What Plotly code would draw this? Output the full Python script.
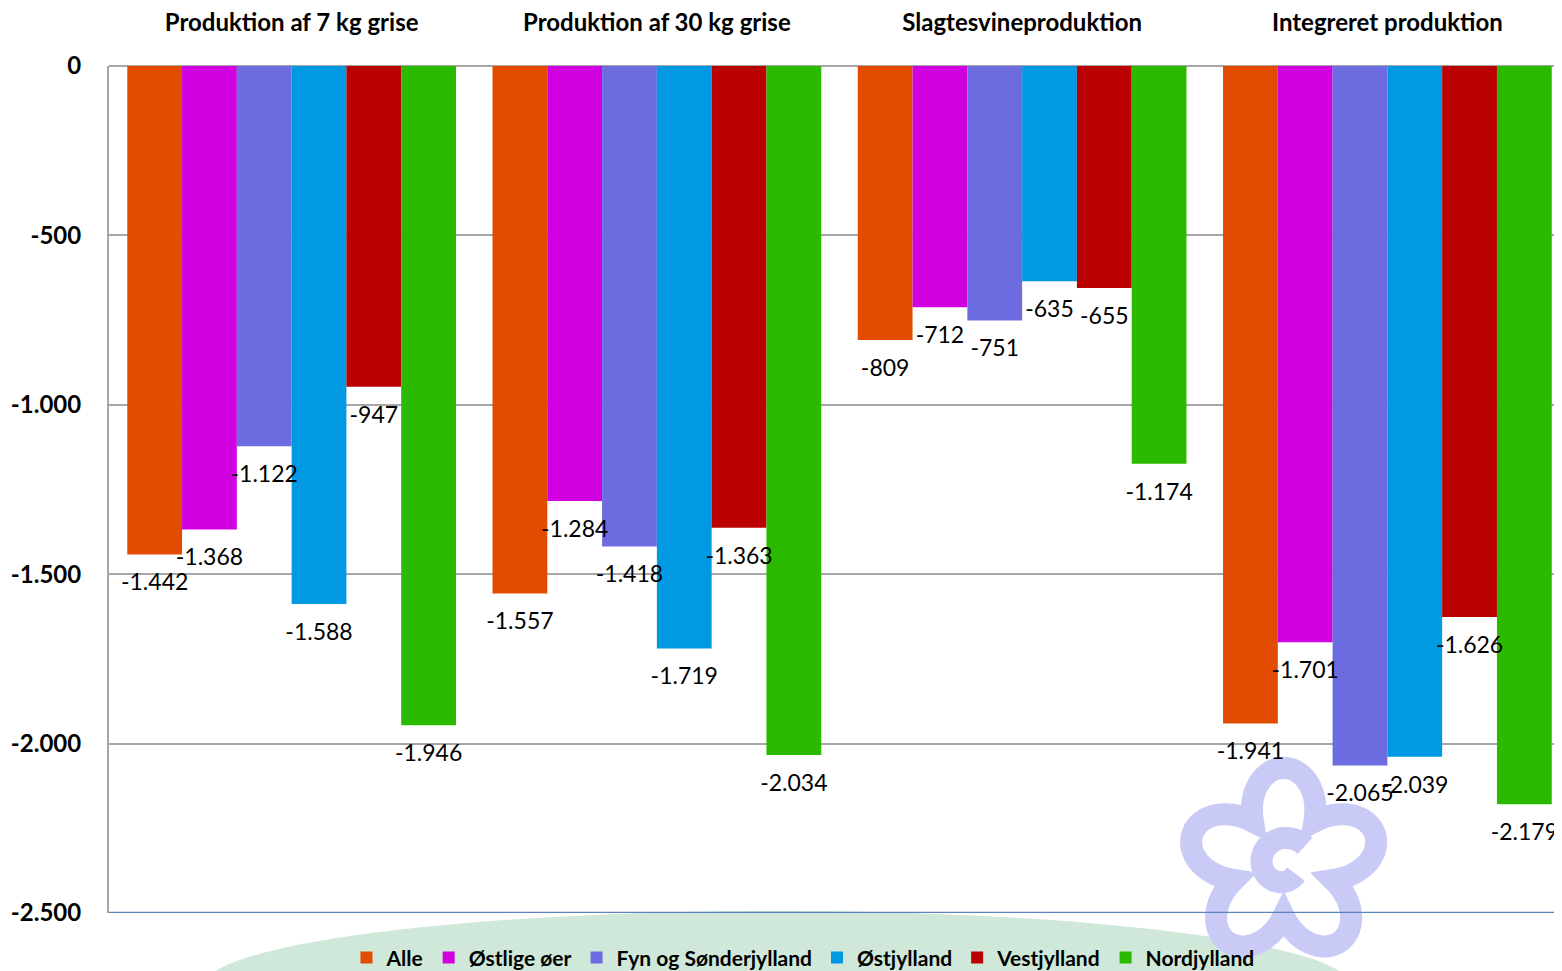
import math
import plotly.graph_objects as go

# data
kategorier = ["Produktion af 7 kg grise", "Produktion af 30 kg grise",
              "Slagtesvineproduktion", "Integreret produktion"]
serier = ["Alle", "Østlige øer", "Fyn og Sønderjylland",
          "Østjylland", "Vestjylland", "Nordjylland"]
alle = [-1442, -1557, -809, -1941]
ostlige_oer = [-1368, -1284, -712, -1701]
fyn_sonderjylland = [-1122, -1418, -751, -2065]
ostjylland = [-1588, -1719, -635, -2039]
vestjylland = [-947, -1363, -655, -1626]
nordjylland = [-1946, -2034, -1174, -2179]

y_ticks = [0, -500, -1000, -1500, -2000, -2500]
y_ticktekst = ["0", "-500", "-1.000", "-1.500", "-2.000", "-2.500"]

FARVER = ["#E24C00", "#D000E0", "#6C6CE0", "#0099E2", "#BA0000", "#2CBA00"]
FONT = "Lato"

alle_serier = [alle, ostlige_oer, fyn_sonderjylland,
               ostjylland, vestjylland, nordjylland]

fig = go.Figure()
for i, (navn, vals, farve) in enumerate(zip(serier, alle_serier, FARVER)):
    fig.add_trace(go.Bar(
        x=kategorier, y=vals, name=navn,
        offsetgroup=str(i), alignmentgroup="a",
        marker=dict(color=farve, line=dict(width=0)),
    ))

# dataetiketter oven paa alle soejler
for i, (navn, vals) in enumerate(zip(serier, alle_serier)):
    fig.add_trace(go.Scatter(
        x=kategorier, y=vals, mode="markers+text",
        offsetgroup=str(i), alignmentgroup="a",
        text=[f"{v:,d}".replace(",", ".") for v in vals],
        textposition="bottom center",
        textfont=dict(family=FONT, size=23, color="black"),
        marker=dict(size=28, color="rgba(0,0,0,0)"),
        showlegend=False, hoverinfo="skip", cliponaxis=False,
    ))

# baggrund: groen bue nederst
fig.add_shape(type="circle", xref="paper", yref="paper",
              x0=0.065, x1=0.85, y0=-0.175, y1=0.0024,
              fillcolor="#CFE8D9", line=dict(width=0), layer="below")

# baggrund: lilla blomst (logo), tegnet i pixels omkring et ankerpunkt
blomst = []
for k in range(241):
    t = 2 * math.pi * k / 240
    r = 52 + 44 * abs(math.cos(2.5 * (t - math.pi / 2)))
    blomst.append(f"{r * math.cos(t):.1f},{r * math.sin(t):.1f}")
spiral = []
for k in range(41):
    t = math.radians(40 + 280 * k / 40)
    r = 28 - 12 * k / 40
    spiral.append(f"{r * math.cos(t):.1f},{r * math.sin(t):.1f}")
for sti in ["M" + " L".join(blomst) + " Z", "M" + " L".join(spiral)]:
    fig.add_shape(type="path", path=sti, xref="paper", yref="paper",
                  xsizemode="pixel", ysizemode="pixel",
                  xanchor=0.804, yanchor=0.058,
                  line=dict(color="#C9CAF5", width=22), layer="below")

fig.update_layout(
    width=1562, height=971,
    barmode="group", bargap=0.1, bargroupgap=0,
    scattermode="group", scattergap=0.1,
    plot_bgcolor="rgba(0,0,0,0)", paper_bgcolor="white",
    font=dict(family=FONT, color="black"),
    margin=dict(l=101, r=0, t=58, b=66),
    showlegend=True,
    legend=dict(orientation="h", x=0.475, xanchor="center",
                yref="container", y=0.043, yanchor="top",
                bgcolor="rgba(0,0,0,0)",
                font=dict(size=21, family=FONT, weight="bold"),
                itemwidth=30, tracegroupgap=0),
)
fig.update_xaxes(side="top", showline=False, ticks="", automargin=False,
                 ticklabelstandoff=29,
                 tickfont=dict(size=24, family=FONT, weight="bold"))
fig.update_yaxes(range=[-2500, 0], tickvals=y_ticks, ticktext=y_ticktekst,
                 automargin=False, ticklabelstandoff=21,
                 showgrid=True, gridcolor="#A6A6A6", gridwidth=1.5,
                 zeroline=True, zerolinecolor="#A6A6A6", zerolinewidth=1.5,
                 showline=True, linecolor="#A6A6A6", linewidth=2,
                 ticks="",
                 tickfont=dict(size=24, family=FONT, weight="bold"))
# blaa linje ved -2500
fig.add_hline(y=-2500, line=dict(color="#5B83BD", width=2.5))

fig.write_html("out.html")
